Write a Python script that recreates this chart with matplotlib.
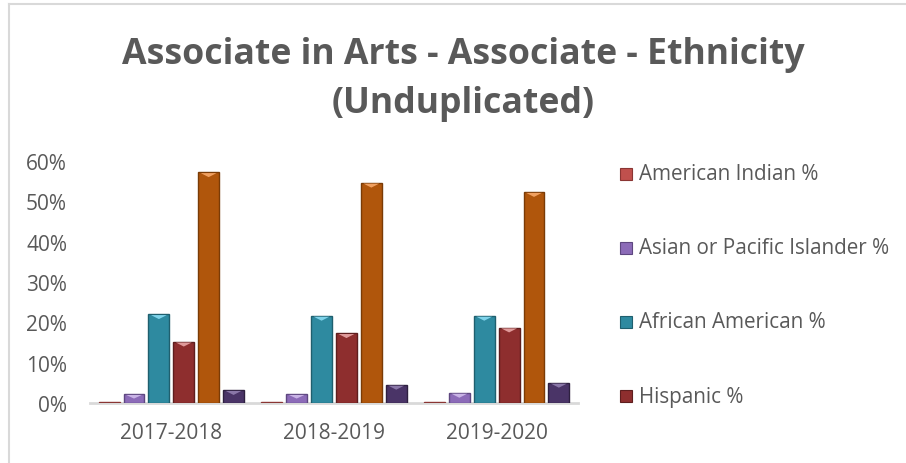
import matplotlib
matplotlib.use("Agg")
import matplotlib.pyplot as plt
from matplotlib.patches import Rectangle, Polygon
from matplotlib.ticker import PercentFormatter
import numpy as np

years = ["2017-2018", "2018-2019", "2019-2020"]
series_names = ["American Indian %", "Asian or Pacific Islander %", "African American %",
                "Hispanic %", "White %", "Other %"]
american_indian = [0.002, 0.002, 0.003]
asian = [0.022, 0.022, 0.025]
african_american = [0.220, 0.216, 0.216]
hispanic = [0.152, 0.173, 0.187]
white = [0.572, 0.546, 0.523]
other = [0.032, 0.045, 0.050]
values = [american_indian, asian, african_american, hispanic, white, other]
legend_count = 4

colors = ["#C0504D", "#8C6BB8", "#2E8AA0", "#8E2E2E", "#B0560C", "#4A3467"]
edges = ["#8A3533", "#5E4780", "#1F5F6E", "#5E1E1E", "#7A3B06", "#2E2040"]
tops = ["#E8A09E", "#C9B3E6", "#7FD3EA", "#E09A9A", "#F0A060", "#8A77A8"]

text_color = "#595959"
font = "Open Sans"

fig = plt.figure(figsize=(9.06, 4.64), dpi=100)
fig.patch.set_facecolor("white")
W, H = 906, 464

# chart frame (left and top border)
fig.add_artist(plt.Line2D([9 / W, 9 / W], [0, 1 - 5 / H], transform=fig.transFigure,
                          color="#D9D9D9", lw=1.5))
fig.add_artist(plt.Line2D([9 / W, 1], [1 - 5 / H, 1 - 5 / H], transform=fig.transFigure,
                          color="#D9D9D9", lw=1.5))

ax = fig.add_axes([90 / W, 1 - 404 / H, (578 - 90) / W, (404 - 162) / H])
x = np.arange(len(years))
n = len(values)
slot = 0.153
bw = 0.128
for i, vals in enumerate(values):
    offs = (i - (n - 1) / 2) * slot
    bars = ax.bar(x + offs, vals, width=bw, color=colors[i], edgecolor=edges[i],
                  linewidth=1.0, zorder=3)
    for b in bars:
        h = b.get_height()
        th = min(0.012, h * 0.5)
        if h > 0.01:
            x0 = b.get_x()
            w = b.get_width()
            tri = Polygon([[x0 + w * 0.12, h - 0.002], [x0 + w * 0.88, h - 0.002],
                           [x0 + w * 0.5, h - th]], closed=True, facecolor=tops[i],
                          edgecolor="none", zorder=4)
            ax.add_patch(tri)

ax.set_xlim(-0.5, len(years) - 0.5)
ax.set_ylim(0, 0.6)
ax.set_yticks(np.arange(0, 0.61, 0.1))
ax.yaxis.set_major_formatter(PercentFormatter(1.0, decimals=0))
ax.set_xticks(x)
ax.set_xticklabels(years)
for sp in ["top", "right", "left"]:
    ax.spines[sp].set_visible(False)
ax.spines["bottom"].set_color("#D9D9D9")
ax.spines["bottom"].set_linewidth(2)
ax.spines["bottom"].set_zorder(2)
ax.tick_params(axis="both", length=0, labelsize=15, labelcolor=text_color)
ax.tick_params(axis="y", pad=16.5)
ax.tick_params(axis="x", pad=14)
for lab in ax.get_xticklabels() + ax.get_yticklabels():
    lab.set_fontfamily(font)

fig.text(463 / W, 1 - 55 / H, "Associate in Arts - Associate - Ethnicity",
         ha="center", va="center", fontsize=25.7, fontweight="bold", color=text_color,
         fontfamily=font)
fig.text(463 / W, 1 - 104 / H, "(Unduplicated)",
         ha="center", va="center", fontsize=25.7, fontweight="bold", color=text_color,
         fontfamily=font)

# legend (first entries only, as in the reference)
leg_y = [175, 249, 323, 397]
for i in range(legend_count):
    yc = leg_y[i]
    fig.add_artist(Rectangle((620 / W, 1 - (yc + 6) / H), 12 / W, 12 / H,
                             transform=fig.transFigure, facecolor=colors[i],
                             edgecolor=edges[i], lw=0.8))
    fig.text(639 / W, 1 - yc / H, series_names[i], ha="left", va="center",
             fontsize=14.9, color=text_color, fontfamily=font)

fig.savefig("out.png", dpi=100, facecolor="white")
